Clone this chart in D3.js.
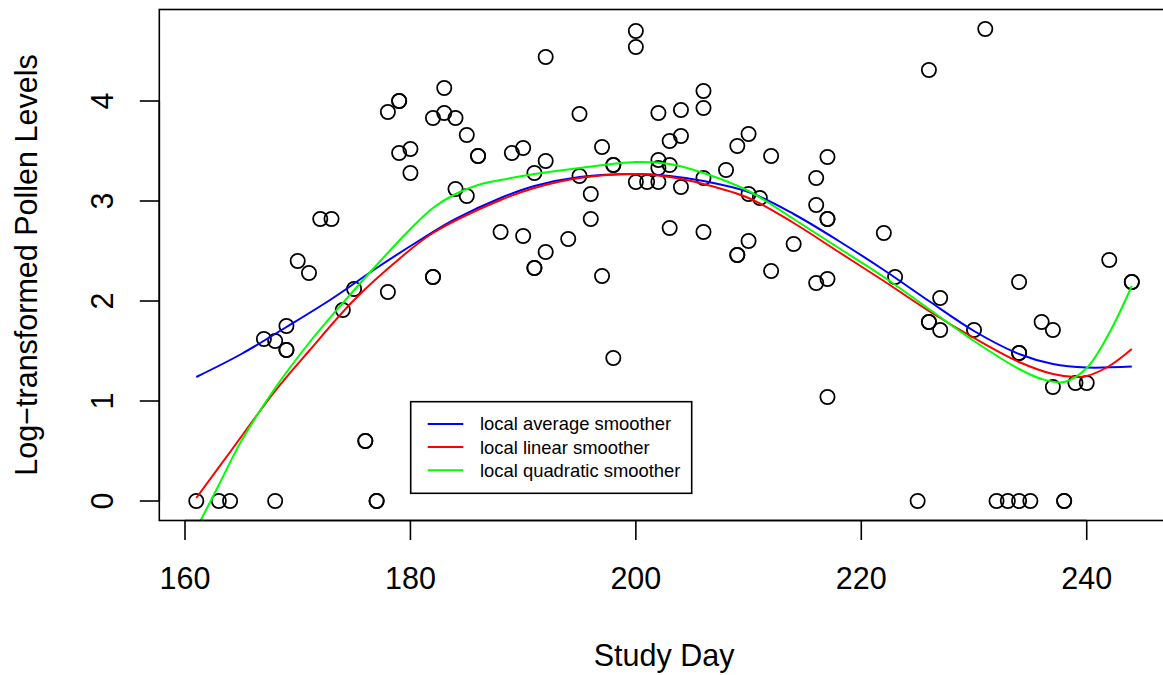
<!DOCTYPE html>
<html>
<head>
<meta charset="utf-8">
<script src="https://cdn.jsdelivr.net/npm/d3@7"></script>
<style>
  html, body { margin: 0; padding: 0; background: #ffffff; }
  svg { display: block; font-family: "Liberation Sans", Arial, Helvetica, sans-serif; }
</style>
</head>
<body>
<svg id="chart" width="1163" height="675"></svg>
<script>
// ---- Data ----
const studyDay = [
  161,163,164,168,177,177,225,232,233,234,235,238,238,
  167,168,169,169,169,170,171,172,173,174,175,176,176,178,178,179,179,179,180,180,
  182,182,182,183,183,184,184,185,185,186,186,188,189,190,190,191,191,191,192,192,192,
  194,195,195,196,196,197,197,198,198,198,200,200,200,201,202,202,202,202,203,203,203,
  204,204,204,206,206,206,206,208,209,209,209,210,210,210,211,212,212,214,216,216,216,
  217,217,217,217,217,222,223,226,226,226,227,227,230,231,234,234,234,236,237,237,239,
  240,242,244,244
];
const pollenLevel = [
  0,0,0,0,0,0,0,0,0,0,0,0,0,
  1.62,1.60,1.75,1.51,1.51,2.40,2.28,2.82,2.82,1.91,2.12,0.60,0.60,2.09,3.89,4.00,4.00,3.48,3.52,3.28,
  3.83,2.24,2.24,4.13,3.88,3.83,3.12,3.66,3.05,3.45,3.45,2.69,3.48,3.53,2.65,3.28,2.33,2.33,4.44,3.40,2.49,
  2.62,3.87,3.25,3.07,2.82,3.54,2.25,3.36,3.36,1.43,4.70,4.54,3.19,3.19,3.88,3.41,3.33,3.19,3.60,3.36,2.73,
  3.91,3.65,3.14,4.10,3.93,3.23,2.69,3.31,3.55,2.46,2.46,3.67,3.07,2.60,3.03,3.45,2.30,2.57,3.23,2.96,2.18,
  3.44,2.82,2.82,2.22,1.04,2.68,2.24,4.31,1.79,1.79,2.03,1.71,1.71,4.72,2.19,1.48,1.48,1.79,1.71,1.14,1.18,
  1.18,2.41,2.19,2.19
];

// smoother curves
const avgDays = [161,165,169,173,177,181,184,188,191,195,200,203,206,210,214,218,222,226,230,234,237,240,244];
const avgVals = [1.24,1.47,1.74,2.02,2.33,2.62,2.82,3.03,3.15,3.24,3.27,3.25,3.20,3.09,2.87,2.60,2.31,2.00,1.70,1.47,1.37,1.335,1.345];

const linDays = [161,164,168,171,175,179,182,188,191,195,200,203,206,210,214,218,222,226,230,234,237,239,240,242,244];
const linVals = [0.03,0.49,1.10,1.50,2.01,2.42,2.68,3.01,3.13,3.23,3.27,3.24,3.17,3.03,2.78,2.49,2.20,1.90,1.63,1.39,1.27,1.24,1.25,1.35,1.52];

const quadDays = [161,163,165,168,171,174,177,180,182,184,186,188,191,195,200,203,206,210,214,218,222,226,230,234,236,238,240,242,244];
const quadVals = [-0.28,0.16,0.60,1.13,1.58,1.98,2.36,2.72,2.93,3.07,3.16,3.21,3.27,3.33,3.39,3.37,3.28,3.10,2.82,2.53,2.24,1.92,1.60,1.32,1.22,1.19,1.33,1.68,2.15];

const xTicks = [160,180,200,220,240];
const yTicks = [0,1,2,3,4];
const legendLabels = ["local average smoother","local linear smoother","local quadratic smoother"];
const legendColors = ["#0000ff","#ff0000","#00ff00"];

// ---- Layout ----
const svg = d3.select("#chart");
const plotL = 159.3, plotR = 1169, plotT = 9.5, plotB = 520.5;
const x = d3.scaleLinear().domain([157.72, 247.3]).range([plotL, plotR]);
const y = d3.scaleLinear().domain([-0.195, 4.915]).range([plotB, plotT]);
const fontSize = 30.5;

svg.append("defs").append("clipPath").attr("id","plotclip")
  .append("rect").attr("x",plotL).attr("y",plotT).attr("width",plotR-plotL).attr("height",plotB-plotT);

// points
const pts = studyDay.map((d,i)=>({d, v: pollenLevel[i]}));
svg.append("g").selectAll("circle").data(pts).join("circle")
  .attr("cx", p=>x(p.d)).attr("cy", p=>y(p.v)).attr("r", 7.1)
  .attr("fill","none").attr("stroke","#000").attr("stroke-width",1.8);

// curves
const line = d3.line().x(p=>x(p[0])).y(p=>y(p[1])).curve(d3.curveCatmullRom.alpha(0.5));
const curves = [
  [avgDays, avgVals, legendColors[0]],
  [linDays, linVals, legendColors[1]],
  [quadDays, quadVals, legendColors[2]]
];
const cg = svg.append("g").attr("clip-path","url(#plotclip)");
curves.forEach(([ds, vs, col])=>{
  cg.append("path").datum(ds.map((d,i)=>[d, vs[i]]))
    .attr("d", line).attr("fill","none").attr("stroke", col).attr("stroke-width", 2);
});

// box
svg.append("rect").attr("x",plotL).attr("y",plotT).attr("width",plotR-plotL).attr("height",plotB-plotT)
  .attr("fill","none").attr("stroke","#000").attr("stroke-width",1.6);

// x axis
const xg = svg.append("g");
xg.append("line").attr("x1",x(xTicks[0])).attr("x2",x(xTicks[xTicks.length-1]))
  .attr("y1",plotB).attr("y2",plotB).attr("stroke","#000").attr("stroke-width",1.6);
xTicks.forEach(t=>{
  xg.append("line").attr("x1",x(t)).attr("x2",x(t)).attr("y1",plotB).attr("y2",plotB+19.5)
    .attr("stroke","#000").attr("stroke-width",1.6);
  xg.append("text").attr("x",x(t)).attr("y",589).attr("text-anchor","middle")
    .attr("font-size",fontSize).attr("fill","#000").text(t);
});
// y axis
const yg = svg.append("g");
yg.append("line").attr("x1",plotL).attr("x2",plotL).attr("y1",y(yTicks[0])).attr("y2",y(yTicks[yTicks.length-1]))
  .attr("stroke","#000").attr("stroke-width",1.6);
yTicks.forEach(t=>{
  yg.append("line").attr("x1",plotL-19.5).attr("x2",plotL).attr("y1",y(t)).attr("y2",y(t))
    .attr("stroke","#000").attr("stroke-width",1.6);
  yg.append("text").attr("transform",`translate(113,${y(t)}) rotate(-90)`).attr("text-anchor","middle")
    .attr("font-size",fontSize).attr("fill","#000").text(t);
});

// axis titles
svg.append("text").attr("x",(plotL+plotR)/2).attr("y",666).attr("text-anchor","middle")
  .attr("font-size",fontSize).attr("fill","#000").text("Study Day");
svg.append("text").attr("transform",`translate(36.5,${(plotT+plotB)/2}) rotate(-90)`).attr("text-anchor","middle")
  .attr("font-size",fontSize).attr("fill","#000").text("Log\u2212transformed Pollen Levels");

// legend
const lg = svg.append("g");
lg.append("rect").attr("x",410.7).attr("y",401.7).attr("width",281).attr("height",91.6)
  .attr("fill","#fff").attr("stroke","#000").attr("stroke-width",1.6);
legendLabels.forEach((lab,i)=>{
  const ry = 424 + i*23.1;
  lg.append("line").attr("x1",427.7).attr("x2",463.3).attr("y1",ry).attr("y2",ry)
    .attr("stroke",legendColors[i]).attr("stroke-width",2);
  lg.append("text").attr("x",480).attr("y",ry).attr("dy","0.35em")
    .attr("font-size",18.4).attr("fill","#000").text(lab);
});
</script>
</body>
</html>
